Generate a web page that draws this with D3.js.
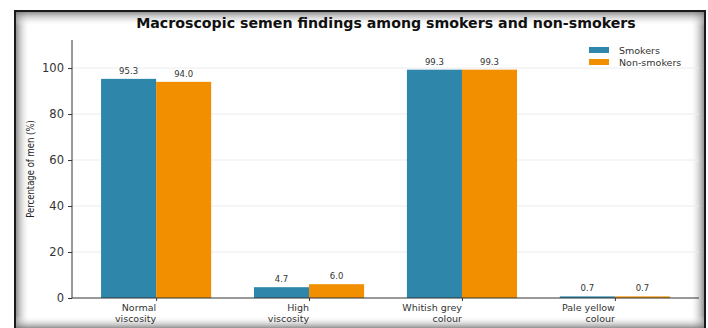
<!DOCTYPE html>
<html>
<head>
<meta charset="utf-8">
<script src="https://cdn.jsdelivr.net/npm/d3@7"></script>
<style>
  html, body { margin: 0; padding: 0; background: #fff; }
  svg { display: block; }
  text { font-family: "DejaVu Sans", sans-serif; }
</style>
</head>
<body>
<svg id="chart" width="708" height="328"></svg>
<script>
// Findings (percentage of men) by group
const categories = [["Normal", "viscosity"], ["High", "viscosity"], ["Whitish grey", "colour"], ["Pale yellow", "colour"]];
const smokers = [95.3, 4.7, 99.3, 0.7];
const nonSmokers = [94.0, 6.0, 99.3, 0.7];
const seriesNames = ["Smokers", "Non-smokers"];
const seriesColors = ["#2E86AB", "#F18F01"];
const yTicks = [0, 20, 40, 60, 80, 100];

const svg = d3.select("#chart");
const W = 708, H = 328;

// Framed panel with a soft inner shadow
const defs = svg.append("defs");
function grad(id, x1, y1, x2, y2) {
  const g = defs.append("linearGradient").attr("id", id)
    .attr("x1", x1).attr("y1", y1).attr("x2", x2).attr("y2", y2);
  g.append("stop").attr("offset", "0%").attr("stop-color", "#777").attr("stop-opacity", 0.8);
  g.append("stop").attr("offset", "100%").attr("stop-color", "#fff").attr("stop-opacity", 0);
}
grad("gL", "0", "0", "1", "0");
grad("gR", "1", "0", "0", "0");
grad("gT", "0", "0", "0", "1");
grad("gB", "0", "1", "0", "0");

svg.append("rect").attr("width", W).attr("height", H).attr("fill", "#fff");
const fx0 = 16, fy0 = 12, fx1 = 704, fy1 = 328;
svg.append("rect").attr("x", fx0).attr("y", fy0).attr("width", 14).attr("height", fy1 - fy0).attr("fill", "url(#gL)");
svg.append("rect").attr("x", fx1 - 14).attr("y", fy0).attr("width", 14).attr("height", fy1 - fy0).attr("fill", "url(#gR)");
svg.append("rect").attr("x", fx0).attr("y", fy0).attr("width", fx1 - fx0).attr("height", 14).attr("fill", "url(#gT)");
svg.append("rect").attr("x", fx0).attr("y", fy1 - 12).attr("width", fx1 - fx0).attr("height", 12).attr("fill", "url(#gB)");
svg.append("path")
  .attr("d", `M${fx0 - 1},${H + 2} V${fy0 - 1} H${fx1 + 1} V${H + 2}`)
  .attr("fill", "none").attr("stroke", "#1a1a1a").attr("stroke-width", 2);

// Plot area
const pLeft = 72, pRight = 699, pTop = 40, pBottom = 298;
const x = d3.scaleLinear().domain([-0.55, 3.55]).range([pLeft, pRight]);
const y = d3.scaleLinear().domain([0, 112.2]).range([pBottom, pTop]);
const barW = 0.36;

// Horizontal grid
svg.append("g").selectAll("line").data(yTicks.slice(1)).join("line")
  .attr("x1", pLeft).attr("x2", pRight)
  .attr("y1", d => y(d)).attr("y2", d => y(d))
  .attr("stroke", "#ececec").attr("stroke-width", 1);

// Bars and value labels
const series = [smokers, nonSmokers];
series.forEach((vals, si) => {
  const off = si === 0 ? -barW : 0;
  const g = svg.append("g");
  g.selectAll("rect").data(vals).join("rect")
    .attr("x", (d, i) => x(i + off))
    .attr("width", x(barW) - x(0))
    .attr("y", d => y(d))
    .attr("height", d => y(0) - y(d))
    .attr("fill", seriesColors[si]);
  g.selectAll("text").data(vals).join("text")
    .attr("x", (d, i) => x(i + off + barW / 2))
    .attr("y", d => y(d) - 5)
    .attr("text-anchor", "middle")
    .attr("font-size", 8.5)
    .attr("fill", "#333")
    .text(d => d.toFixed(1));
});

// Y axis
const yAxis = svg.append("g").attr("transform", `translate(${pLeft},0)`)
  .call(d3.axisLeft(y).tickValues(yTicks).tickSize(4).tickPadding(4));
yAxis.select(".domain").attr("stroke", "#333").attr("d", `M0,${pTop}V${pBottom}`);
yAxis.selectAll(".tick line").attr("stroke", "#333");
yAxis.selectAll(".tick text").attr("font-size", 11.5).attr("fill", "#333")
  .attr("font-family", "DejaVu Sans, sans-serif");

// X axis
const xAxis = svg.append("g").attr("transform", `translate(0,${pBottom})`)
  .call(d3.axisBottom(x).tickValues(d3.range(categories.length)).tickSize(3).tickFormat(""));
xAxis.select(".domain").attr("stroke", "#333").attr("d", `M${pLeft},0H${pRight}`);
xAxis.selectAll(".tick line").attr("stroke", "#333");

const xl = svg.append("g").selectAll("text").data(categories).join("text")
  .attr("text-anchor", "end")
  .attr("font-size", 9.5)
  .attr("fill", "#333");
xl.each(function (lines, i) {
  const t = d3.select(this);
  lines.forEach((ln, k) => {
    t.append("tspan").attr("x", x(i)).attr("y", pBottom + 13 + k * 10.5).text(ln);
  });
});

// Y label
svg.append("text")
  .attr("transform", `translate(34,${(pTop + pBottom) / 2}) rotate(-90) scale(0.85,1)`)
  .attr("text-anchor", "middle")
  .attr("font-size", 10)
  .attr("fill", "#222")
  .text("Percentage of men (%)");

// Title
svg.append("text")
  .attr("x", 386).attr("y", 28)
  .attr("text-anchor", "middle")
  .attr("font-size", 14.2)
  .attr("font-weight", "bold")
  .attr("fill", "#111")
  .text("Macroscopic semen findings among smokers and non-smokers");

// Legend
const lg = svg.append("g").attr("transform", "translate(589,47)");
seriesNames.forEach((name, i) => {
  lg.append("rect").attr("x", 0).attr("y", i * 12).attr("width", 20).attr("height", 6)
    .attr("fill", seriesColors[i]);
  lg.append("text").attr("x", 30).attr("y", i * 12 + 6.5)
    .attr("font-size", 9.5).attr("fill", "#333").text(name);
});
</script>
</body>
</html>
